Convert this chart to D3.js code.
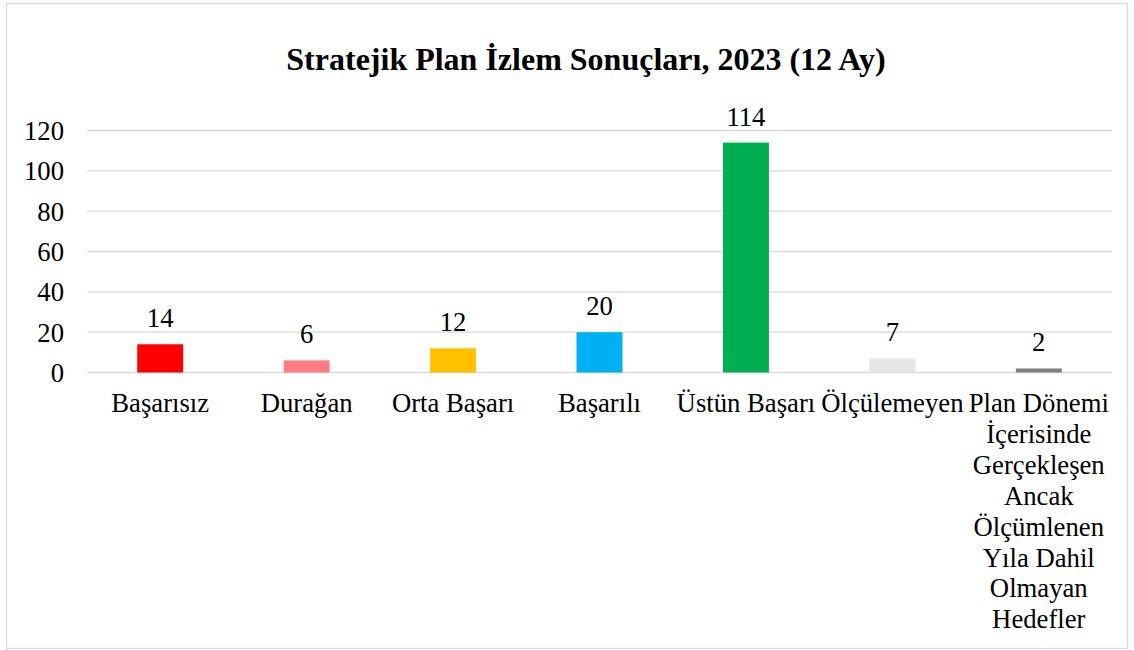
<!DOCTYPE html>
<html lang="tr">
<head>
<meta charset="utf-8">
<script src="https://d3js.org/d3.v7.min.js"></script>
<style>
  body { margin: 0; background: #fff; }
  text { font-family: "Liberation Serif", "Times New Roman", serif; fill: #000; }
</style>
</head>
<body>
<script>
// chart data
var categories = ["Başarısız", "Durağan", "Orta Başarı", "Başarılı", "Üstün Başarı", "Ölçülemeyen",
  "Plan Dönemi İçerisinde Gerçekleşen Ancak Ölçümlenen Yıla Dahil Olmayan Hedefler"];
var categoryLines = [
  ["Başarısız"], ["Durağan"], ["Orta Başarı"], ["Başarılı"], ["Üstün Başarı"], ["Ölçülemeyen"],
  ["Plan Dönemi", "İçerisinde", "Gerçekleşen", "Ancak", "Ölçümlenen", "Yıla Dahil", "Olmayan", "Hedefler"]
];
var values = [14, 6, 12, 20, 114, 7, 2];
var barColors = ["#ff0000", "#ff7c80", "#ffc000", "#00b0f0", "#00b050", "#e6e6e6", "#7f7f7f"];
var yTicks = [0, 20, 40, 60, 80, 100, 120];
var title = "Stratejik Plan İzlem Sonuçları, 2023 (12 Ay)";

var W = 1134, H = 650;
var plotLeft = 87, plotRight = 1112, plotTop = 130.5, plotBottom = 372.5;
var fs = "26.7px";

var svg = d3.select("body").append("svg")
  .attr("width", W).attr("height", H);

// outer frame
svg.append("rect")
  .attr("x", 6.5).attr("y", 3.5)
  .attr("width", 1121).attr("height", 645)
  .attr("fill", "#fff").attr("stroke", "#d9d9d9").attr("stroke-width", 1.3);

svg.append("text")
  .attr("x", 586).attr("y", 70)
  .attr("text-anchor", "middle")
  .style("font-size", "32px").style("font-weight", "bold")
  .text(title);

var x = d3.scaleBand()
  .domain(categories)
  .range([plotLeft, plotRight])
  .paddingInner(0.686)
  .paddingOuter(0.343);

var y = d3.scaleLinear()
  .domain([0, 120])
  .range([plotBottom, plotTop]);

// gridlines
svg.append("g")
  .selectAll("line")
  .data(yTicks)
  .enter()
  .append("line")
  .attr("x1", plotLeft).attr("x2", plotRight)
  .attr("y1", function (d) { return y(d); })
  .attr("y2", function (d) { return y(d); })
  .attr("stroke", "#d9d9d9").attr("stroke-width", 1.3);

// y axis labels
var yAxis = svg.append("g")
  .attr("transform", "translate(" + (plotLeft - 13) + ",0)")
  .call(d3.axisLeft(y).tickValues(yTicks).tickSize(0).tickPadding(10));
yAxis.select(".domain").remove();
yAxis.selectAll("text")
  .style("font-family", "'Liberation Serif', 'Times New Roman', serif")
  .style("font-size", fs)
  .attr("fill", "#000")
  .attr("dy", "0.34em");

// bars
svg.append("g")
  .selectAll("rect")
  .data(values)
  .enter()
  .append("rect")
  .attr("x", function (d, i) { return x(categories[i]); })
  .attr("y", function (d) { return y(d); })
  .attr("width", x.bandwidth())
  .attr("height", function (d) { return y(0) - y(d); })
  .attr("fill", function (d, i) { return barColors[i]; });

// value labels
svg.append("g")
  .selectAll("text")
  .data(values)
  .enter()
  .append("text")
  .attr("x", function (d, i) { return x(categories[i]) + x.bandwidth() / 2; })
  .attr("y", function (d) { return y(d) - 17; })
  .attr("text-anchor", "middle")
  .style("font-size", fs)
  .text(function (d) { return d; });

// category labels
var catG = svg.append("g")
  .selectAll("text")
  .data(categoryLines)
  .enter()
  .append("text")
  .attr("text-anchor", "middle")
  .style("font-size", fs);
catG.each(function (lines, i) {
  var t = d3.select(this);
  var cx = x(categories[i]) + x.bandwidth() / 2;
  lines.forEach(function (ln, j) {
    t.append("tspan")
      .attr("x", cx)
      .attr("y", 412 + j * 30.9)
      .text(ln);
  });
});
</script>
</body>
</html>
